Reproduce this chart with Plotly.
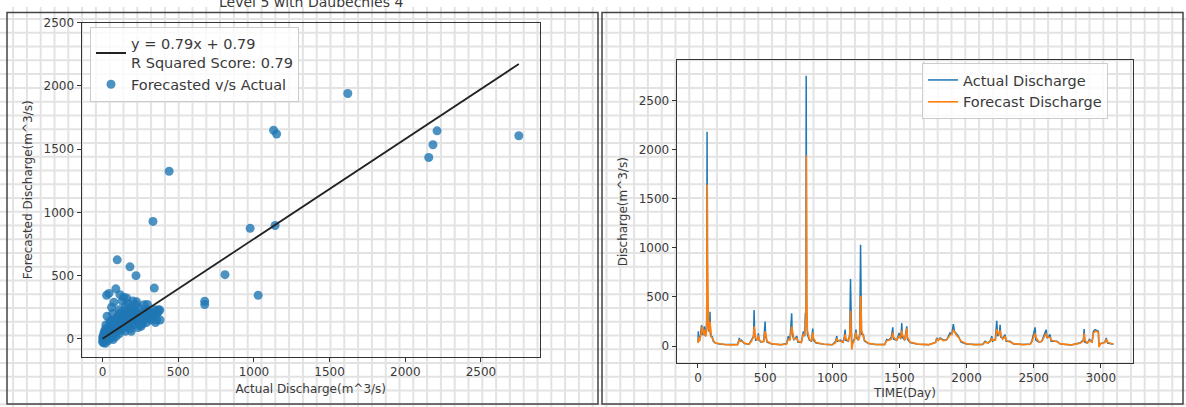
import plotly.graph_objects as go

# ---------------- data ----------------
# Time series (day, actual discharge, forecast discharge)
days = [0, 3, 6, 12, 20, 26, 30, 36, 44, 48, 54, 60, 65, 68, 69, 70, 71, 73, 78, 86, 90, 93, 100, 106, 115, 130, 160, 200, 250, 295,
        304, 308, 316, 324, 331, 345, 380, 398, 405, 414, 418, 422, 430, 445, 450, 455, 470, 490, 500, 504, 515, 550, 620, 660,
        673, 685, 698, 702, 715, 736, 745, 770, 785, 795, 800, 804, 806, 807, 808, 810, 815, 830, 845, 855, 860, 880, 940, 1000,
        1025, 1034, 1040, 1060, 1080, 1090, 1096, 1100, 1120, 1130, 1136, 1139, 1145, 1152, 1165, 1177, 1182, 1195, 1205, 1211,
        1213, 1218, 1232, 1240, 1270, 1320, 1390, 1400, 1406, 1420, 1440, 1451, 1456, 1480, 1498, 1510, 1518, 1522, 1540, 1555,
        1560, 1580, 1640, 1720, 1770, 1778, 1790, 1803, 1830, 1853, 1877, 1890, 1902, 1910, 1925, 1939, 1960, 2000, 2060, 2120,
        2138, 2160, 2180, 2188, 2195, 2215, 2225, 2232, 2245, 2250, 2256, 2270, 2287, 2295, 2324, 2350, 2420, 2475, 2486, 2511,
        2516, 2540, 2560, 2593, 2600, 2622, 2630, 2672, 2700, 2780, 2846, 2870, 2876, 2881, 2900, 2915, 2935, 2945, 2957, 2970,
        2982, 2986, 3000, 3030, 3040, 3050, 3094]
actual = [40, 150, 50, 60, 120, 210, 200, 110, 160, 200, 100, 120, 250, 2180, 2150, 1140, 600, 280, 160, 150, 350, 120, 90, 100, 45, 30, 20, 15, 12, 15,
          60, 83, 45, 60, 50, 25, 18, 60, 80, 100, 367, 130, 60, 70, 130, 60, 40, 50, 250, 100, 40, 20, 14, 25,
          100, 60, 333, 120, 60, 100, 40, 40, 150, 100, 340, 250, 2750, 1620, 1000, 350, 120, 60, 50, 177, 60, 30, 18, 14,
          50, 100, 50, 60, 40, 90, 167, 60, 50, 120, 683, 150, 30, 40, 70, 167, 80, 60, 130, 1030,
          300, 120, 117, 50, 25, 16, 15, 50, 67, 60, 90, 190, 70, 60, 133, 70, 233, 90, 60, 200,
          70, 35, 18, 14, 40, 83, 60, 83, 60, 67, 133, 120, 223, 150, 120, 100, 40, 22, 15, 16,
          50, 30, 60, 100, 50, 70, 257, 100, 130, 217, 90, 80, 117, 50, 50, 22, 15, 20, 50, 190,
          60, 40, 50, 167, 80, 117, 50, 50, 20, 12, 33, 60, 173, 40, 30, 67, 40, 150, 167, 155,
          150, 20, 25, 40, 83, 30, 18]
forecast = [30, 70, 90, 50, 90, 140, 200, 150, 110, 170, 140, 100, 180, 700, 1645, 1535, 900, 350, 200, 140, 250, 200, 100, 80, 55, 32, 22, 16, 12, 14,
            40, 65, 55, 50, 45, 30, 18, 45, 70, 90, 200, 170, 80, 60, 110, 70, 45, 45, 150, 130, 50, 22, 15, 20,
            70, 65, 200, 170, 70, 80, 50, 35, 120, 110, 220, 280, 900, 1940, 1606, 500, 160, 70, 50, 140, 80, 35, 18, 14,
            35, 80, 60, 50, 40, 70, 120, 80, 50, 100, 360, 250, -35, 20, 60, 140, 100, 60, 100, 510,
            500, 160, 90, 60, 28, 17, 15, 40, 55, 60, 70, 140, 90, 60, 100, 80, 160, 120, 60, 180,
            90, 40, 20, 15, 35, 70, 60, 75, 55, 65, 110, 120, 160, 150, 110, 90, 50, 24, 15, 16,
            40, 32, 50, 80, 60, 60, 170, 140, 110, 160, 110, 70, 100, 60, 45, 25, 15, 18, 40, 130,
            90, 40, 45, 130, 90, 90, 60, 45, 22, 12, 28, 50, 130, 60, 30, 55, 40, 130, 150, 150,
            140, -10, 25, 35, 70, 40, 18]

# Scatter: forecasted vs actual pairs
sc_actual = [0, 5, 10, 15, 3, 8, 12, 20, 25, 30, 35, 40, 45, 50, 55, 60, 65, 70, 75, 80, 85, 90, 95, 100, 105, 110, 115, 120,
             125, 130, 135, 140, 145, 150, 155, 160, 165, 170, 175, 180, 185, 190, 195, 200, 205, 210, 215, 220, 225, 230,
             240, 245, 250, 255, 260, 270, 275, 280, 290, 295, 305, 310, 320, 330, 345, 350, 360, 370, 380,
             27, 42, 88, 115, 159, 225, 296, 97, 181, 221, 342, 140, 200, 60, 30, 75, 130, 170,
             18, 22, 48, 66, 110, 150, 190, 235, 265, 300,
             2, 6, 14, 24, 32, 38, 52, 58, 68, 72, 82, 92, 102, 112, 118, 128, 138, 148, 162, 172, 188, 198, 212, 228,
             252, 268, 285, 300, 315, 335, 355, 365,
             1620, 1130, 1150, 2210, 2183, 2155, 2750, 440, 333, 975, 1140, 809, 675, 675, 1028, 379, 357, 247]
sc_forecast = [-20, -30, -10, 5, 20, 40, 60, 80, 30, 10, -15, 0, 20, 50, 80, 30, 10, -5, 40, 70, 100, 20, 60, 130, 90, 40, 160, 110,
               70, 180, 140, 90, 200, 60, 120, 170, 230, 100, 150, 210, 80, 250, 130, 180, 110, 230, 160, 270, 140, 200,
               120, 240, 170, 100, 210, 150, 270, 190, 130, 230, 170, 200, 150, 180, 230, 130, 200, 230, 150,
               345, 360, 396, 350, 324, 293, 272, 625, 570, 500, 402, 330, 300, 250, 180, 290, 300, 280,
               -35, 110, 140, 200, 230, 260, 60, 90, 120, 220,
               5, 10, 30, 50, 60, 90, 110, 130, 150, 60, 120, 160, 180, 200, 100, 140, 220, 160, 190, 130, 160, 220,
               200, 170, 150, 180, 200, 190, 160, 200, 220, 210,
               1940, 1650, 1620, 1645, 1535, 1434, 1606, 1326, 929, 874, 897, 508, 298, 272, 345, 228, 150, 112]

slope = 0.79
intercept = 0.79
r2 = 0.79

x_ticks = [0, 500, 1000, 1500, 2000, 2500]
t_ticks = [0, 500, 1000, 1500, 2000, 2500, 3000]
y_ticks = [0, 500, 1000, 1500, 2000, 2500]

# ---------------- figure ----------------
W, H = 1186, 407
FONT = "DejaVu Sans"
TXT = "#3a3a3a"
BLUE = "#1f77b4"
ORANGE = "#ff7f0e"

fig = go.Figure()

fig.add_trace(go.Scatter(
    x=sc_actual, y=sc_forecast, mode="markers", name="Forecasted v/s Actual",
    marker=dict(color=BLUE, size=9, opacity=0.8, line=dict(width=0)),
    xaxis="x", yaxis="y", legend="legend", legendrank=2))

lx = [min(sc_actual), max(sc_actual)]
ly = [slope * v + intercept for v in lx]
fig.add_trace(go.Scatter(
    x=lx, y=ly, mode="lines",
    name=f"y = {slope}x + {intercept}<br>R Squared Score: {r2}",
    line=dict(color="#222222", width=1.8),
    xaxis="x", yaxis="y", legend="legend", legendrank=1))

fig.add_trace(go.Scatter(
    x=days, y=actual, mode="lines", name="Actual Discharge",
    line=dict(color=BLUE, width=1.5), xaxis="x2", yaxis="y2", legend="legend2"))
fig.add_trace(go.Scatter(
    x=days, y=forecast, mode="lines", name="Forecast Discharge",
    line=dict(color=ORANGE, width=1.6), xaxis="x2", yaxis="y2", legend="legend2"))

def px_x(p):
    return p / W

def px_y(p):
    return 1 - p / H

axis_common = dict(showgrid=False, zeroline=False, showline=True, mirror=True,
                   linecolor="#333333", linewidth=1, ticks="outside", ticklen=4,
                   tickcolor="#333333", tickfont=dict(size=12, color=TXT, family=FONT))

# background paper grid (decorative texture)
parts = []
gx = 689.3
while gx - 13.8 > 0:
    gx -= 13.8
while gx < W:
    parts.append(f"M{px_x(gx):.5f},0 L{px_x(gx):.5f},1")
    gx += 13.8
gy = 68.3
while gy - 14.0 > 0:
    gy -= 14.0
while gy < H:
    parts.append(f"M0,{px_y(gy):.5f} L1,{px_y(gy):.5f}")
    gy += 14.0

shapes = [dict(type="path", path=" ".join(parts), xref="paper", yref="paper",
               line=dict(color="#e3e3e3", width=2), layer="below")]
# panel frames
shapes.append(dict(type="rect", xref="paper", yref="paper",
                   x0=px_x(7), x1=px_x(598), y0=px_y(404), y1=px_y(5.7),
                   line=dict(color="#444444", width=1.5), layer="above"))
shapes.append(dict(type="rect", xref="paper", yref="paper",
                   x0=px_x(602), x1=px_x(1183), y0=px_y(404), y1=px_y(5.7),
                   line=dict(color="#444444", width=1.5), layer="above"))

fig.update_layout(
    width=W, height=H, autosize=False,
    margin=dict(l=0, r=0, t=0, b=0),
    paper_bgcolor="white", plot_bgcolor="rgba(0,0,0,0)",
    font=dict(family=FONT, color=TXT),
    shapes=shapes,
    xaxis=dict(domain=[px_x(81.5), px_x(540)], range=[-139, 2890], tickvals=x_ticks,
               anchor="y", title=dict(text="Actual Discharge(m^3/s)", font=dict(size=12, color=TXT), standoff=6),
               **axis_common),
    yaxis=dict(domain=[px_y(356), px_y(16)], range=[-142, 2500], tickvals=y_ticks,
               anchor="x", title=dict(text="Forecasted Discharge(m^3/s)", font=dict(size=12, color=TXT), standoff=8),
               **axis_common),
    xaxis2=dict(domain=[px_x(676.6), px_x(1133.3)], range=[-159, 3242], tickvals=t_ticks,
                anchor="y2", title=dict(text="TIME(Day)", font=dict(size=12, color=TXT), standoff=4),
                **axis_common),
    yaxis2=dict(domain=[px_y(362.3), px_y(54.3)], range=[-173, 2907], tickvals=y_ticks,
                anchor="x2", title=dict(text="Discharge(m^3/s)", font=dict(size=12, color=TXT), standoff=8),
                **axis_common),
    legend=dict(x=px_x(90), y=px_y(20), xanchor="left", yanchor="top",
                bgcolor="rgba(255,255,255,0.8)", bordercolor="#cccccc", borderwidth=1,
                font=dict(size=14.5, color=TXT, family=FONT), traceorder="normal"),
    legend2=dict(x=px_x(922), y=px_y(57), xanchor="left", yanchor="top",
                 bgcolor="rgba(255,255,255,0.8)", bordercolor="#cccccc", borderwidth=1,
                 font=dict(size=14.5, color=TXT, family=FONT)),
    annotations=[dict(text="Level 5 with Daubechies 4", xref="paper", yref="paper",
                      x=px_x(311), y=px_y(5.5), xanchor="center", yanchor="bottom",
                      showarrow=False, font=dict(size=14, color=TXT, family=FONT))],
)

fig.write_html("out.html", config={"displayModeBar": False},
               post_script="document.body.style.margin='0';document.body.style.overflow='hidden';")
